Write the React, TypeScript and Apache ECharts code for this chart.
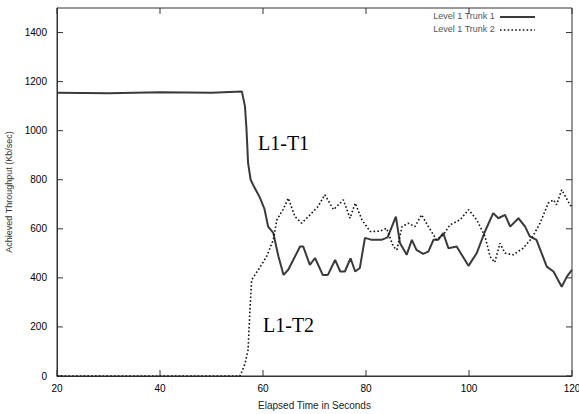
import React, { useEffect, useRef } from "react";
import * as echarts from "echarts";

const trunk1Times = [20, 30, 40, 50, 55.9, 56.5, 56.8, 57.1, 57.6, 58.3, 59.4, 60.3, 61, 62, 63, 64, 64.9, 67.2, 67.8, 69.1, 70.1, 71.6, 72.6, 74, 75, 75.9, 77, 77.9, 78.8, 79.8, 81.1, 83, 84.2, 85.8, 86.6, 87.9, 88.9, 89.8, 91.1, 92.1, 93.1, 94, 95, 96, 97.6, 99.9, 101.5, 103.1, 104.7, 105.7, 107, 108, 109.6, 110.9, 111.8, 113.1, 115.1, 116.4, 118, 119, 120];
const trunk1Values = [1155, 1153, 1157, 1155, 1160, 1099, 1004, 869, 800, 770, 727, 680, 609, 583, 487, 412, 433, 528, 528, 453, 481, 412, 412, 473, 426, 426, 480, 426, 440, 563, 555, 555, 565, 650, 542, 494, 555, 514, 498, 507, 555, 555, 582, 521, 528, 449, 501, 589, 664, 643, 657, 609, 643, 609, 569, 555, 446, 426, 364, 405, 433];

const trunk2Times = [20, 55.5, 55.9, 56.5, 57.1, 57.5, 57.8, 59.1, 60.7, 62, 62.7, 63.9, 64.9, 66.2, 67.5, 68.8, 70.7, 72, 73.7, 75.6, 76.9, 77.9, 79.2, 80.8, 82.7, 84, 85.3, 86, 87, 88.2, 89.5, 90.8, 92.1, 93.7, 95, 96.3, 98.3, 99.9, 101.5, 103.1, 104.1, 105, 106, 107, 108.6, 110.5, 112.2, 113.8, 115.4, 116.4, 117, 118, 119.6, 120];
const trunk2Values = [0, 0, 18, 50, 106, 283, 392, 433, 487, 555, 637, 678, 725, 650, 623, 650, 691, 739, 678, 718, 643, 705, 637, 589, 590, 602, 528, 514, 609, 623, 609, 657, 609, 555, 575, 616, 637, 678, 637, 569, 487, 463, 541, 501, 494, 521, 562, 623, 705, 718, 698, 759, 698, 690];

const xTicks = [20, 40, 60, 80, 100, 120];
const yTicks = [0, 200, 400, 600, 800, 1000, 1200, 1400];
const X_MIN = 20;
const X_MAX = 120;
const Y_MIN = 0;
const Y_MAX = 1500;

const seriesNames = ["Level 1 Trunk 1", "Level 1 Trunk 2"];
const annotations = ["L1-T1", "L1-T2"];
const xName = "Elapsed Time in Seconds";
const yName = "Achieved Throughput (Kb/sec)";

const FONT = "'Liberation Sans', Arial, sans-serif";
const TICK = 6;

export default function App() {
  const ref = useRef<HTMLDivElement>(null);
  useEffect(() => {
    if (!ref.current) return;
    const chart = echarts.init(ref.current, undefined, { renderer: "svg" });
    const d1 = trunk1Times.map((t, i) => [t, trunk1Values[i]]);
    const d2 = trunk2Times.map((t, i) => [t, trunk2Values[i]]);
    const tickStyle = { stroke: "#333", lineWidth: 1 };
    const yFmt = (v: number) => (v >= Y_MAX ? "" : String(v));
    chart.setOption({
      animation: false,
      grid: {
        left: 57, right: 7, top: 8, bottom: 38,
        show: true, borderColor: "#333", borderWidth: 1, backgroundColor: "transparent",
        outerBoundsMode: "none",
      },
      xAxis: {
        type: "value", min: X_MIN, max: X_MAX, interval: 20,
        name: xName, nameLocation: "middle", nameGap: 24,
        nameTextStyle: { fontFamily: FONT, fontSize: 10, color: "#222" },
        axisLine: { show: true, onZero: false, lineStyle: { color: "#333", width: 1 } },
        axisTick: { show: false },
        axisLabel: { fontFamily: FONT, fontSize: 10, color: "#000", margin: 7, formatter: (v: number) => String(v) },
        splitLine: { show: false },
      },
      yAxis: {
        type: "value", min: Y_MIN, max: Y_MAX, interval: 200,
        name: yName, nameLocation: "middle", nameGap: 42,
        nameTextStyle: { fontFamily: FONT, fontSize: 9, color: "#333" },
        axisLine: { show: true, onZero: false, lineStyle: { color: "#333", width: 1 } },
        axisTick: { show: false },
        axisLabel: { fontFamily: FONT, fontSize: 10, color: "#000", margin: 10, formatter: yFmt, showMaxLabel: false },
        splitLine: { show: false },
      },
      series: [
        {
          name: seriesNames[0], type: "line", data: d1, showSymbol: false, symbol: "none",
          lineStyle: { color: "#3a3a3a", width: 2 },
        },
        {
          name: seriesNames[1], type: "line", data: d2, showSymbol: false, symbol: "none",
          lineStyle: { color: "#111", width: 1.6, type: [1.6, 2.2] },
        },
        {
          type: "custom", silent: true, clip: false,
          data: xTicks.map((v) => [v, Y_MIN]),
          renderItem: (params: any, api: any) => {
            const x = api.value(0);
            const b = api.coord([x, Y_MIN]);
            const t = api.coord([x, Y_MAX]);
            return {
              type: "group",
              children: [
                { type: "line", shape: { x1: b[0], y1: b[1], x2: b[0], y2: b[1] - TICK }, style: tickStyle },
                { type: "line", shape: { x1: t[0], y1: t[1], x2: t[0], y2: t[1] + TICK }, style: tickStyle },
              ],
            };
          },
        },
        {
          type: "custom", silent: true, clip: false,
          data: yTicks.map((v) => [X_MIN, v]),
          renderItem: (params: any, api: any) => {
            const y = api.value(1);
            const l = api.coord([X_MIN, y]);
            const r = api.coord([X_MAX, y]);
            return {
              type: "group",
              children: [
                { type: "line", shape: { x1: l[0], y1: l[1], x2: l[0] + TICK, y2: l[1] }, style: tickStyle },
                { type: "line", shape: { x1: r[0], y1: r[1], x2: r[0] - TICK, y2: r[1] }, style: tickStyle },
              ],
            };
          },
        },
      ],
      graphic: [
        { type: "text", right: 84, top: 11, style: { text: seriesNames[0], font: `9px ${FONT}`, fill: "#555" } },
        { type: "text", right: 84, top: 24, style: { text: seriesNames[1], font: `9px ${FONT}`, fill: "#555" } },
        { type: "line", shape: { x1: 500, y1: 17, x2: 535, y2: 17 }, style: { stroke: "#3a3a3a", lineWidth: 2 } },
        { type: "line", shape: { x1: 500, y1: 30, x2: 535, y2: 30 }, style: { stroke: "#111", lineWidth: 1.6, lineDash: [1.6, 2.2] } },
        { type: "text", left: 258, top: 133, style: { text: annotations[0], font: `20px 'Liberation Serif', 'Times New Roman', serif`, fill: "#000" } },
        { type: "text", left: 263, top: 315, style: { text: annotations[1], font: `20px 'Liberation Serif', 'Times New Roman', serif`, fill: "#000" } },
      ],
    });
    return () => chart.dispose();
  }, []);
  return <div ref={ref} style={{ width: 579, height: 414, position: "absolute", left: 0, top: 0 }} />;
}
